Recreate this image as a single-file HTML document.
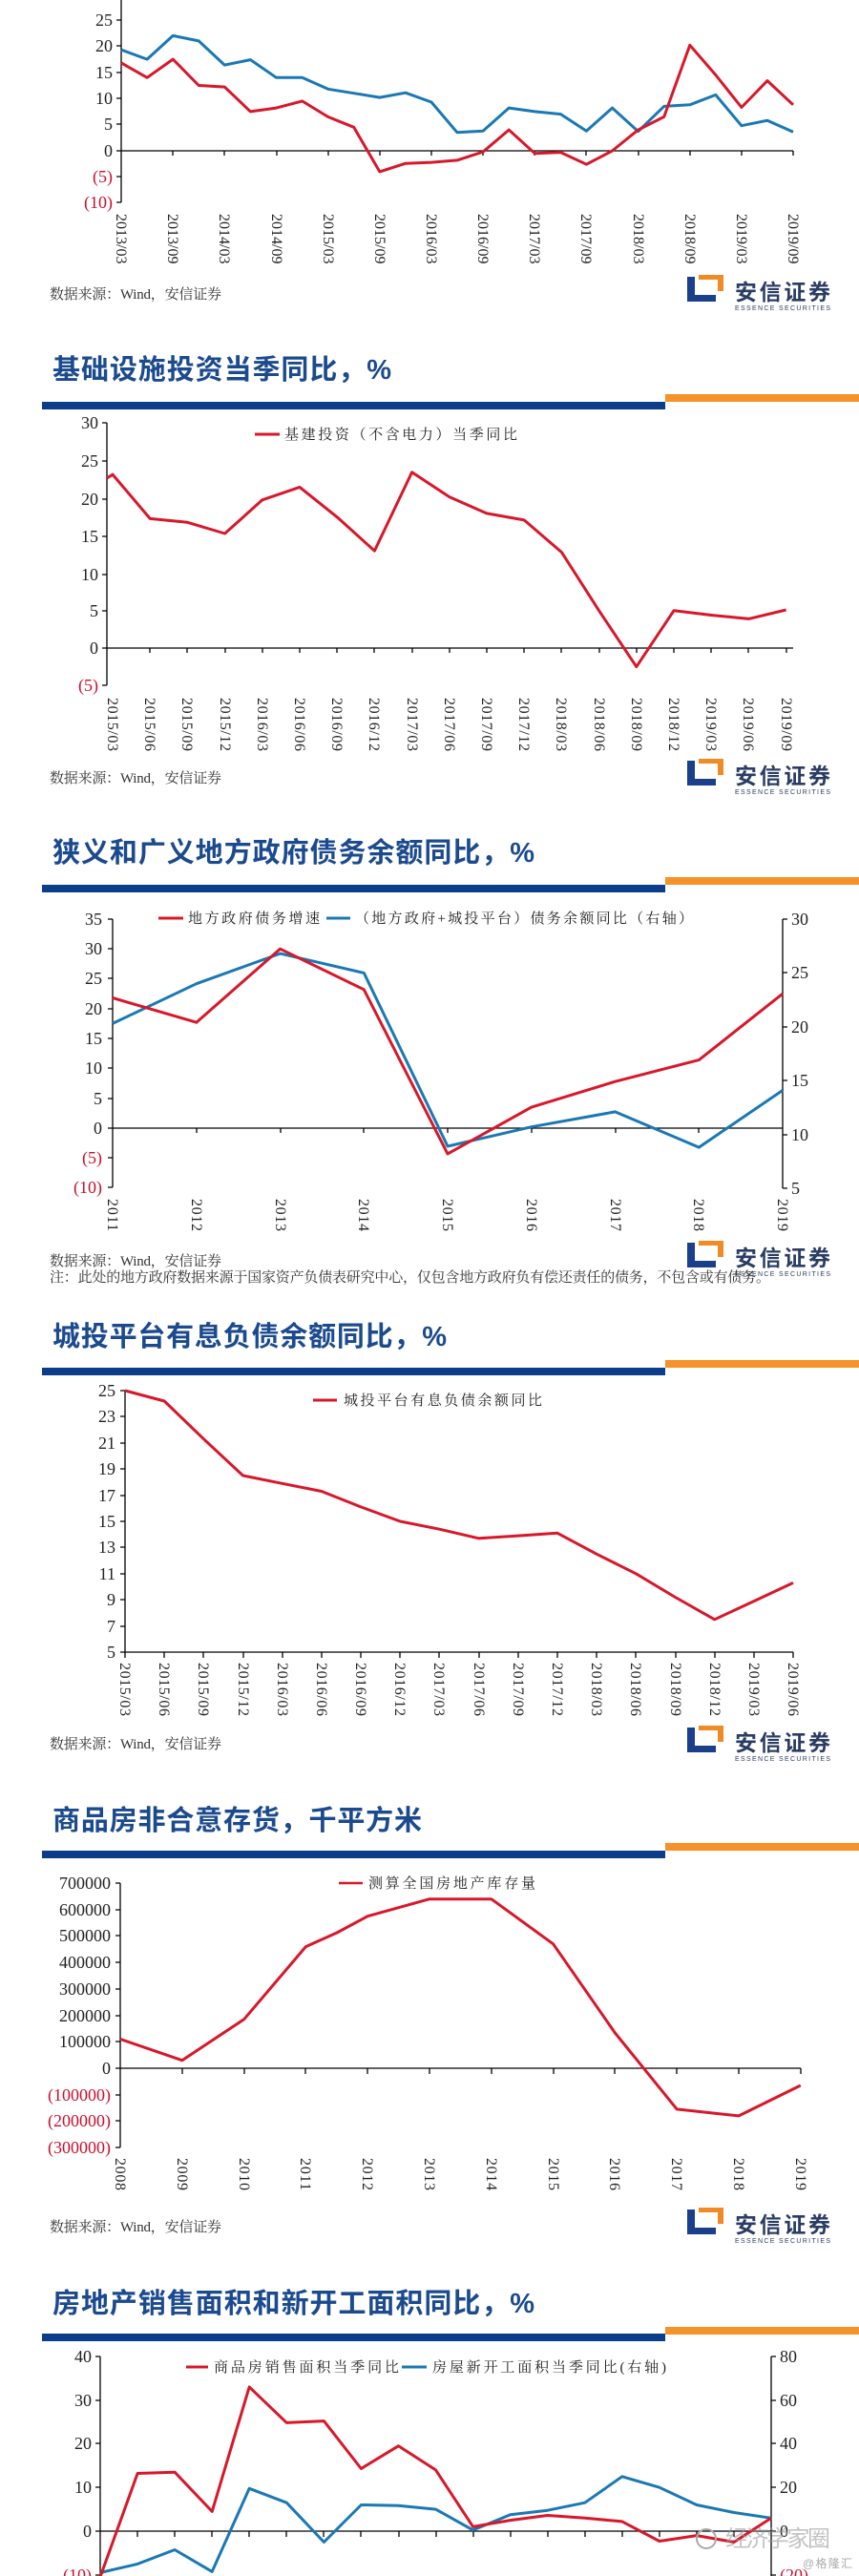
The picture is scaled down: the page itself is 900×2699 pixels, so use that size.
<!DOCTYPE html>
<html><head><meta charset="utf-8"><style>
html,body{margin:0;padding:0;background:#fff}
svg{display:block}
.t{font-family:"Liberation Sans","Noto Sans CJK SC",sans-serif;font-size:29px;fill:#1b4a8e;font-weight:bold}
.n{font-family:"Liberation Serif","Noto Serif CJK SC",serif;font-size:18px;fill:#222}
.nr{font-family:"Liberation Serif","Noto Serif CJK SC",serif;font-size:18px;fill:#c8102e}
.d{font-family:"Liberation Serif","Noto Serif CJK SC",serif;font-size:16px;fill:#222}
.s{font-family:"Liberation Serif","Noto Serif CJK SC",serif;font-size:15px;fill:#333}
.lg{font-family:"Liberation Serif","Noto Serif CJK SC",serif;font-size:15px;fill:#222}
.r{fill:none;stroke:#d7182a;stroke-width:3;stroke-linejoin:round}
.b{fill:none;stroke:#1a78b4;stroke-width:3;stroke-linejoin:round}
.ax{stroke:#000;stroke-width:1.3;fill:none}
</style></head><body>
<svg width="900" height="2699" viewBox="0 0 900 2699" xmlns="http://www.w3.org/2000/svg">
<defs>
<g id="logo">
<rect x="720" y="290" width="8" height="26" fill="#1a3f8b"/>
<rect x="720" y="309" width="30" height="7" fill="#1a3f8b"/>
<rect x="732" y="288" width="26" height="5" fill="#f08a24"/>
<rect x="752" y="288" width="6" height="17" fill="#f08a24"/>
<text x="770" y="314" font-family="'Liberation Sans','Noto Sans CJK SC',sans-serif" font-size="23" font-weight="bold" fill="#2b3d63" textLength="100">安信证券</text>
<text x="770" y="325" font-family="'Liberation Sans',sans-serif" font-size="7" fill="#2b3d63" textLength="100">ESSENCE SECURITIES</text>
</g>
</defs>

<!-- ===== Chart 1 ===== -->
<path class="ax" d="M127 0V212M127 158H831"/>
<g class="ax"><path d="M122 21H127M122 48H127M122 76H127M122 103H127M122 130H127M122 158H127M122 185H127M122 212H127"/>
<path d="M181 158v5M235 158v5M290 158v5M344 158v5M398 158v5M452 158v5M506 158v5M560 158v5M614 158v5M669 158v5M723 158v5M777 158v5M831 158v5"/></g>
<g text-anchor="end"><text class="n" x="118" y="27">25</text><text class="n" x="118" y="54">20</text><text class="n" x="118" y="82">15</text><text class="n" x="118" y="109">10</text><text class="n" x="118" y="136">5</text><text class="n" x="118" y="164">0</text><text class="nr" x="118" y="191">(5)</text><text class="nr" x="118" y="218">(10)</text></g>
<g class="d">
<text transform="translate(122,224) rotate(90)">2013/03</text><text transform="translate(176,224) rotate(90)">2013/09</text><text transform="translate(230,224) rotate(90)">2014/03</text><text transform="translate(285,224) rotate(90)">2014/09</text><text transform="translate(339,224) rotate(90)">2015/03</text><text transform="translate(393,224) rotate(90)">2015/09</text><text transform="translate(447,224) rotate(90)">2016/03</text><text transform="translate(501,224) rotate(90)">2016/09</text><text transform="translate(555,224) rotate(90)">2017/03</text><text transform="translate(609,224) rotate(90)">2017/09</text><text transform="translate(664,224) rotate(90)">2018/03</text><text transform="translate(718,224) rotate(90)">2018/09</text><text transform="translate(772,224) rotate(90)">2019/03</text><text transform="translate(826,224) rotate(90)">2019/09</text>
</g>
<polyline class="b" points="127,52.2 154.1,62.1 181.2,37.4 208.2,42.9 235.3,68.1 262.4,62.6 289.5,81.3 316.6,81.3 343.6,93.3 370.7,97.7 397.8,102.1 424.9,97.2 452,107 479,138.8 506.1,137.2 533.2,113.1 560.3,116.9 587.4,119.6 614.4,137.2 641.5,113.1 668.6,137.7 695.7,111.4 722.8,109.8 749.8,99.4 776.9,131.7 804,126.2 831,138.3"/>
<polyline class="r" points="127,65.9 154.1,81.3 181.2,62.1 208.2,89.5 235.3,91.1 262.4,116.9 289.5,113.1 316.6,105.9 343.6,122.4 370.7,133.3 397.8,179.9 424.9,171.2 452,170.1 479,167.9 506.1,159.1 533.2,136.1 560.3,160.7 587.4,159.6 614.4,172.2 641.5,158 668.6,136.1 695.7,122.4 722.8,47.3 749.8,78.5 776.9,112.5 804,84.6 831,109.8"/>
<text class="s" x="52" y="313" textLength="180">数据来源：Wind，安信证券</text>
<use href="#logo"/>

<!-- ===== Chart 2 ===== -->
<text class="t" x="55" y="397" textLength="355">基础设施投资当季同比，%</text>
<rect x="44" y="421" width="653" height="8" fill="#0b3d8a"/><rect x="697" y="413" width="203" height="8" fill="#f5922a"/>
<path class="ax" d="M112 443V718M112 679H831"/>
<g class="ax"><path d="M107 443H112M107 483H112M107 523H112M107 562H112M107 602H112M107 640H112M107 679H112M107 718H112"/>
<path d="M157 679v5M196 679v5M236 679v5M275 679v5M314 679v5M353 679v5M392 679v5M432 679v5M471 679v5M510 679v5M549 679v5M588 679v5M628 679v5M667 679v5M706 679v5M745 679v5M784 679v5M824 679v5"/></g>
<g text-anchor="end"><text class="n" x="103" y="449">30</text><text class="n" x="103" y="489">25</text><text class="n" x="103" y="529">20</text><text class="n" x="103" y="568">15</text><text class="n" x="103" y="608">10</text><text class="n" x="103" y="646">5</text><text class="n" x="103" y="685">0</text><text class="nr" x="103" y="724">(5)</text></g>
<g class="d">
<text transform="translate(113,731) rotate(90)" textLength="56">2015/03</text><text transform="translate(152,731) rotate(90)" textLength="56">2015/06</text><text transform="translate(191,731) rotate(90)" textLength="56">2015/09</text><text transform="translate(231,731) rotate(90)" textLength="56">2015/12</text><text transform="translate(270,731) rotate(90)" textLength="56">2016/03</text><text transform="translate(309,731) rotate(90)" textLength="56">2016/06</text><text transform="translate(348,731) rotate(90)" textLength="56">2016/09</text><text transform="translate(387,731) rotate(90)" textLength="56">2016/12</text><text transform="translate(427,731) rotate(90)" textLength="56">2017/03</text><text transform="translate(466,731) rotate(90)" textLength="56">2017/06</text><text transform="translate(505,731) rotate(90)" textLength="56">2017/09</text><text transform="translate(544,731) rotate(90)" textLength="56">2017/12</text><text transform="translate(583,731) rotate(90)" textLength="56">2018/03</text><text transform="translate(623,731) rotate(90)" textLength="56">2018/06</text><text transform="translate(662,731) rotate(90)" textLength="56">2018/09</text><text transform="translate(701,731) rotate(90)" textLength="56">2018/12</text><text transform="translate(740,731) rotate(90)" textLength="56">2019/03</text><text transform="translate(779,731) rotate(90)" textLength="56">2019/06</text><text transform="translate(819,731) rotate(90)" textLength="56">2019/09</text>
</g>
<line x1="267" y1="455" x2="293" y2="455" stroke="#d7182a" stroke-width="3"/>
<text class="lg" x="298" y="460" textLength="244">基建投资（不含电力）当季同比</text>
<polyline class="r" points="112,501 118,497.1 157.2,543.4 196.4,547.3 235.6,559 274.8,523.8 314,510.4 353.2,541.8 392.4,577.1 431.6,494.8 470.8,520.6 510,537.9 549.2,544.9 588.4,578.6 627.6,639.8 666.8,698.6 706,639.8 745.2,644.5 784.4,648.4 823.6,639"/>
<text class="s" x="52" y="820" textLength="180">数据来源：Wind，安信证券</text>
<use href="#logo" transform="translate(0,507)"/>

<!-- ===== Chart 3 ===== -->
<text class="t" x="55" y="903" textLength="505">狭义和广义地方政府债务余额同比，%</text>
<rect x="44" y="927" width="653" height="8" fill="#0b3d8a"/><rect x="697" y="919" width="203" height="8" fill="#f5922a"/>
<path class="ax" d="M118 963V1244M118 1182H820M820 963V1245"/>
<g class="ax"><path d="M113 963H118M113 994H118M113 1025H118M113 1057H118M113 1088H118M113 1119H118M113 1151H118M113 1182H118M113 1213H118M113 1244H118"/>
<path d="M820 963H825M820 1019H825M820 1076H825M820 1132H825M820 1189H825M820 1245H825"/>
<path d="M206 1182v5M294 1182v5M381 1182v5M469 1182v5M557 1182v5M645 1182v5M732 1182v5"/></g>
<g text-anchor="end"><text class="n" x="107" y="969">35</text><text class="n" x="107" y="1000">30</text><text class="n" x="107" y="1031">25</text><text class="n" x="107" y="1063">20</text><text class="n" x="107" y="1094">15</text><text class="n" x="107" y="1125">10</text><text class="n" x="107" y="1157">5</text><text class="n" x="107" y="1188">0</text><text class="nr" x="107" y="1219">(5)</text><text class="nr" x="107" y="1250">(10)</text></g>
<g><text class="n" x="829" y="969">30</text><text class="n" x="829" y="1025">25</text><text class="n" x="829" y="1082">20</text><text class="n" x="829" y="1138">15</text><text class="n" x="829" y="1195">10</text><text class="n" x="829" y="1251">5</text></g>
<g class="d">
<text transform="translate(113,1256) rotate(90)" textLength="34">2011</text><text transform="translate(201,1256) rotate(90)" textLength="34">2012</text><text transform="translate(289,1256) rotate(90)" textLength="34">2013</text><text transform="translate(376,1256) rotate(90)" textLength="34">2014</text><text transform="translate(464,1256) rotate(90)" textLength="34">2015</text><text transform="translate(552,1256) rotate(90)" textLength="34">2016</text><text transform="translate(640,1256) rotate(90)" textLength="34">2017</text><text transform="translate(727,1256) rotate(90)" textLength="34">2018</text><text transform="translate(815,1256) rotate(90)" textLength="34">2019</text>
</g>
<line x1="166" y1="962" x2="192" y2="962" stroke="#d7182a" stroke-width="3"/>
<text class="lg" x="197" y="967" textLength="138">地方政府债务增速</text>
<line x1="342" y1="962" x2="367" y2="962" stroke="#1a78b4" stroke-width="3"/>
<text class="lg" x="372" y="967" textLength="354">（地方政府+城投平台）债务余额同比（右轴）</text>
<polyline class="b" points="118,1072.4 205.8,1030.7 293.5,999.1 381.3,1019.4 469,1201 556.8,1180.7 644.5,1164.9 732.3,1202.1 820,1142.4"/>
<polyline class="r" points="118,1045.5 205.8,1071.2 293.5,994.2 381.3,1036.8 469,1208.9 556.8,1160.1 644.5,1133.2 732.3,1110.6 820,1041.2"/>
<text class="s" x="52" y="1326" textLength="180">数据来源：Wind，安信证券</text>
<use href="#logo" transform="translate(0,1012)"/>
<text class="s" x="52" y="1343" textLength="755">注：此处的地方政府数据来源于国家资产负债表研究中心，仅包含地方政府负有偿还责任的债务，不包含或有债务。</text>

<!-- ===== Chart 4 ===== -->
<text class="t" x="55" y="1410" textLength="413">城投平台有息负债余额同比，%</text>
<rect x="44" y="1433" width="653" height="8" fill="#0b3d8a"/><rect x="697" y="1425" width="203" height="8" fill="#f5922a"/>
<path class="ax" d="M131 1457V1731H831"/>
<g class="ax"><path d="M126 1457H131M126 1484H131M126 1512H131M126 1539H131M126 1567H131M126 1594H131M126 1621H131M126 1649H131M126 1676H131M126 1704H131M126 1731H131"/>
<path d="M131 1731v6M172 1731v6M213 1731v6M255 1731v6M296 1731v6M337 1731v6M378 1731v6M419 1731v6M460 1731v6M502 1731v6M543 1731v6M584 1731v6M625 1731v6M666 1731v6M708 1731v6M749 1731v6M790 1731v6M831 1731v6"/></g>
<g text-anchor="end"><text class="n" x="121" y="1463">25</text><text class="n" x="121" y="1490">23</text><text class="n" x="121" y="1518">21</text><text class="n" x="121" y="1545">19</text><text class="n" x="121" y="1573">17</text><text class="n" x="121" y="1600">15</text><text class="n" x="121" y="1627">13</text><text class="n" x="121" y="1655">11</text><text class="n" x="121" y="1682">9</text><text class="n" x="121" y="1710">7</text><text class="n" x="121" y="1737">5</text></g>
<g class="d">
<text transform="translate(126,1742) rotate(90)" textLength="56">2015/03</text><text transform="translate(167,1742) rotate(90)" textLength="56">2015/06</text><text transform="translate(208,1742) rotate(90)" textLength="56">2015/09</text><text transform="translate(250,1742) rotate(90)" textLength="56">2015/12</text><text transform="translate(291,1742) rotate(90)" textLength="56">2016/03</text><text transform="translate(332,1742) rotate(90)" textLength="56">2016/06</text><text transform="translate(373,1742) rotate(90)" textLength="56">2016/09</text><text transform="translate(414,1742) rotate(90)" textLength="56">2016/12</text><text transform="translate(455,1742) rotate(90)" textLength="56">2017/03</text><text transform="translate(497,1742) rotate(90)" textLength="56">2017/06</text><text transform="translate(538,1742) rotate(90)" textLength="56">2017/09</text><text transform="translate(579,1742) rotate(90)" textLength="56">2017/12</text><text transform="translate(620,1742) rotate(90)" textLength="56">2018/03</text><text transform="translate(661,1742) rotate(90)" textLength="56">2018/06</text><text transform="translate(703,1742) rotate(90)" textLength="56">2018/09</text><text transform="translate(744,1742) rotate(90)" textLength="56">2018/12</text><text transform="translate(785,1742) rotate(90)" textLength="56">2019/03</text><text transform="translate(826,1742) rotate(90)" textLength="56">2019/06</text>
</g>
<line x1="328" y1="1467" x2="353" y2="1467" stroke="#d7182a" stroke-width="3"/>
<text class="lg" x="360" y="1472" textLength="208">城投平台有息负债余额同比</text>
<polyline class="r" points="131,1457 172.2,1468 213.4,1507.7 254.5,1546 295.7,1554.3 336.9,1562.5 378.1,1578.9 419.3,1594 460.4,1602.2 501.6,1611.8 542.8,1609.1 584,1606.3 625.2,1628.3 666.3,1648.8 707.5,1673.5 748.7,1696.8 789.9,1677.6 831,1658.4"/>
<text class="s" x="52" y="1832" textLength="180">数据来源：Wind，安信证券</text>
<use href="#logo" transform="translate(0,1520)"/>

<!-- ===== Chart 5 ===== -->
<text class="t" x="55" y="1917" textLength="387">商品房非合意存货，千平方米</text>
<rect x="44" y="1939" width="653" height="8" fill="#0b3d8a"/><rect x="697" y="1931" width="203" height="8" fill="#f5922a"/>
<path class="ax" d="M126 1973V2250M126 2167H839"/>
<g class="ax"><path d="M121 1973H126M121 2001H126M121 2028H126M121 2056H126M121 2084H126M121 2112H126M121 2139H126M121 2167H126M121 2195H126M121 2222H126M121 2250H126"/>
<path d="M191 2167v6M256 2167v6M320 2167v6M385 2167v6M450 2167v6M515 2167v6M580 2167v6M644 2167v6M709 2167v6M774 2167v6M839 2167v6"/></g>
<g text-anchor="end"><text class="n" x="116" y="1979">700000</text><text class="n" x="116" y="2007">600000</text><text class="n" x="116" y="2034">500000</text><text class="n" x="116" y="2062">400000</text><text class="n" x="116" y="2090">300000</text><text class="n" x="116" y="2118">200000</text><text class="n" x="116" y="2145">100000</text><text class="n" x="116" y="2173">0</text><text class="nr" x="116" y="2201">(100000)</text><text class="nr" x="116" y="2228">(200000)</text><text class="nr" x="116" y="2256">(300000)</text></g>
<g class="d">
<text transform="translate(121,2261) rotate(90)" textLength="34">2008</text><text transform="translate(186,2261) rotate(90)" textLength="34">2009</text><text transform="translate(251,2261) rotate(90)" textLength="34">2010</text><text transform="translate(315,2261) rotate(90)" textLength="34">2011</text><text transform="translate(380,2261) rotate(90)" textLength="34">2012</text><text transform="translate(445,2261) rotate(90)" textLength="34">2013</text><text transform="translate(510,2261) rotate(90)" textLength="34">2014</text><text transform="translate(575,2261) rotate(90)" textLength="34">2015</text><text transform="translate(639,2261) rotate(90)" textLength="34">2016</text><text transform="translate(704,2261) rotate(90)" textLength="34">2017</text><text transform="translate(769,2261) rotate(90)" textLength="34">2018</text><text transform="translate(834,2261) rotate(90)" textLength="34">2019</text>
</g>
<line x1="355" y1="1973" x2="380" y2="1973" stroke="#d7182a" stroke-width="2.5"/>
<text class="lg" x="386" y="1978" textLength="175">测算全国房地产库存量</text>
<polyline class="r" points="126,2136.5 190.8,2158.7 255.6,2115.8 320.4,2039.6 353,2025 385.2,2007.7 450,1989.7 514.8,1989.7 579.6,2036.8 644.4,2130 709.2,2209.9 774,2216.9 838.8,2185"/>
<text class="s" x="52" y="2338" textLength="180">数据来源：Wind，安信证券</text>
<use href="#logo" transform="translate(0,2025)"/>

<!-- ===== Chart 6 ===== -->
<text class="t" x="55" y="2423" textLength="505">房地产销售面积和新开工面积同比，%</text>
<rect x="44" y="2445" width="653" height="8" fill="#0b3d8a"/><rect x="697" y="2438" width="203" height="8" fill="#f5922a"/>
<path class="ax" d="M105 2469V2699M105 2652H808M808 2469V2699"/>
<g class="ax"><path d="M100 2469H105M100 2515H105M100 2560H105M100 2606H105M100 2652H105M100 2698H105"/>
<path d="M808 2469H813M808 2515H813M808 2560H813M808 2606H813M808 2652H813M808 2698H813"/>
<path d="M144 2652v6M183 2652v6M222 2652v6M261 2652v6M300 2652v6M339 2652v6M378 2652v6M418 2652v6M457 2652v6M496 2652v6M535 2652v6M574 2652v6M613 2652v6M652 2652v6M691 2652v6M730 2652v6M769 2652v6"/></g>
<g text-anchor="end"><text class="n" x="96" y="2475">40</text><text class="n" x="96" y="2521">30</text><text class="n" x="96" y="2566">20</text><text class="n" x="96" y="2612">10</text><text class="n" x="96" y="2658">0</text><text class="nr" x="96" y="2704">(10)</text></g>
<g><text class="n" x="817" y="2475">80</text><text class="n" x="817" y="2521">60</text><text class="n" x="817" y="2566">40</text><text class="n" x="817" y="2612">20</text><text class="n" x="817" y="2658">0</text><text class="nr" x="817" y="2704">(20)</text></g>
<line x1="195" y1="2480" x2="218" y2="2480" stroke="#d7182a" stroke-width="3"/>
<text class="lg" x="224" y="2485" textLength="194">商品房销售面积当季同比</text>
<line x1="421" y1="2480" x2="447" y2="2480" stroke="#1a78b4" stroke-width="3"/>
<text class="lg" x="453" y="2485" textLength="245">房屋新开工面积当季同比(右轴)</text>
<polyline class="b" points="105,2695.5 144.1,2686.4 183.1,2671.5 222.2,2694.4 261.2,2607.3 300.3,2622.2 339.4,2663.5 378.4,2624.5 417.5,2625.2 456.5,2629.1 495.6,2650.9 534.7,2634.8 573.7,2630.2 612.8,2622.2 651.8,2594.8 690.9,2606.2 729.9,2624.5 769,2632.5 808,2638.3"/>
<polyline class="r" points="105,2700 144.1,2591.5 183.1,2590.2 222.2,2631.4 261.2,2500.9 300.3,2538.4 339.4,2536.6 378.4,2586.5 417.5,2562.7 456.5,2587.9 495.6,2647.4 534.7,2640.6 573.7,2635.5 612.8,2638.3 651.8,2641.9 690.9,2662.5 729.9,2656.6 769,2663.5 808,2638.3"/>
<text x="760" y="2668" font-family="'Liberation Sans','Noto Sans CJK SC',sans-serif" font-size="24" fill="#999" fill-opacity="0.6" textLength="110">经济学家圈</text>
<circle cx="740" cy="2660" r="10" fill="none" stroke="#aaa" stroke-width="2"/>
<text x="841" y="2690" font-family="'Liberation Sans','Noto Sans CJK SC',sans-serif" font-size="12" fill="#aaa" textLength="52">@格隆汇</text>
</svg>
</body></html>
